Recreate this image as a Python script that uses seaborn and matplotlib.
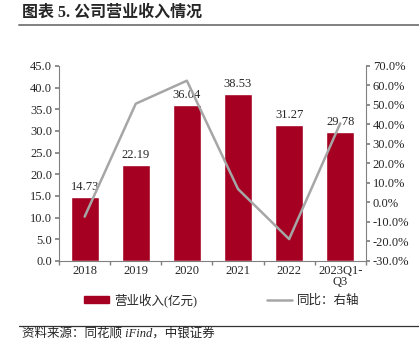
import numpy as np
import pandas as pd
import seaborn as sns
import matplotlib.pyplot as plt
from matplotlib.patches import Patch
from matplotlib.lines import Line2D

## Chart data
years = ["2018", "2019", "2020", "2021", "2022", "2023Q1-\nQ3"]
revenue = [14.73, 22.19, 36.04, 38.53, 31.27, 29.78]
yoy = [-7.3, 50.6, 62.4, 6.9, -18.8, 40.5]

bar_color = "#A50021"
line_color = "#A6A6A6"

sns.set_theme(style="white")
plt.rcParams['font.family'] = ['Liberation Serif', 'Noto Sans CJK SC']
plt.rcParams['axes.unicode_minus'] = False

df = pd.DataFrame({"year": years, "revenue": revenue, "yoy": yoy})

fig = plt.figure(figsize=(4.19, 3.56), dpi=100)
ax = fig.add_axes([0.141, 0.267, 0.732, 0.548])

# Bars: revenue
sns.barplot(x="year", y="revenue", data=df, color=bar_color, width=0.55,
            saturation=1, ax=ax)
ax.bar_label(ax.containers[0], fmt="%.2f", fontsize=9, padding=3)
ax.set_ylim(0, 45)
ax.set_yticks(np.arange(0, 45.1, 5))
ax.set_yticklabels([f"{v:.1f}" for v in np.arange(0, 45.1, 5)], fontsize=9)
ax.set_xlim(-0.5, 5.5)
ax.set_xticks(range(len(years)))
ax.set_xticklabels(years, fontsize=9, linespacing=0.9)
ax.set_xticks(np.arange(-0.5, 5.6, 1), minor=True)
ax.tick_params(axis="x", which="major", length=0, pad=3)
ax.tick_params(axis="x", which="minor", length=3, direction="out", color="#808080", bottom=True)
ax.tick_params(axis="y", length=3, direction="out", color="#808080", left=True, pad=2)
ax.set_xlabel("")
ax.set_ylabel("")
for s in ["top", "right"]:
    ax.spines[s].set_visible(False)
for s in ["left", "bottom"]:
    ax.spines[s].set_color("#808080")
    ax.spines[s].set_linewidth(0.8)

# Line: YoY growth on right axis
ax2 = ax.twinx()
sns.lineplot(x=np.arange(len(years)), y=df["yoy"], color=line_color, linewidth=1.8, ax=ax2)
ax2.set_ylim(-30, 70)
ax2.set_yticks(np.arange(-30, 70.1, 10))
ax2.set_yticklabels([f"{v:.1f}%" for v in np.arange(-30, 70.1, 10)], fontsize=9)
ax2.tick_params(axis="y", length=3, direction="out", color="#808080", right=True, pad=2)
ax2.set_ylabel("")
for s in ["top", "left", "bottom"]:
    ax2.spines[s].set_visible(False)
ax2.spines["right"].set_color("#808080")
ax2.spines["right"].set_linewidth(0.8)

# Legend
handles = [Patch(facecolor=bar_color, edgecolor=bar_color),
           Line2D([], [], color=line_color, linewidth=1.8)]
fig.legend(handles, ["营业收入(亿元)", "同比：右轴"], loc="center left", ncol=2,
           bbox_to_anchor=(0.2, 0.157), frameon=False, fontsize=9,
           handlelength=2.0, handleheight=0.45, columnspacing=5.6, handletextpad=0.4,
           borderaxespad=0, borderpad=0)

# Title and source
fig.text(0.052, 0.964, "图表 5. 公司营业收入情况", fontsize=11.5, fontweight="bold", va="center")
fig.add_artist(Line2D([0.045, 1.0], [0.929, 0.929], color="#808080", linewidth=1.4))
fig.add_artist(Line2D([0.045, 1.0], [0.085, 0.085], color="#333333", linewidth=0.9))
fig.text(0.052, 0.064, "资料来源：同花顺 iFind，中银证券", fontsize=9, style="italic", va="center")

fig.savefig("out.png", dpi=100)
